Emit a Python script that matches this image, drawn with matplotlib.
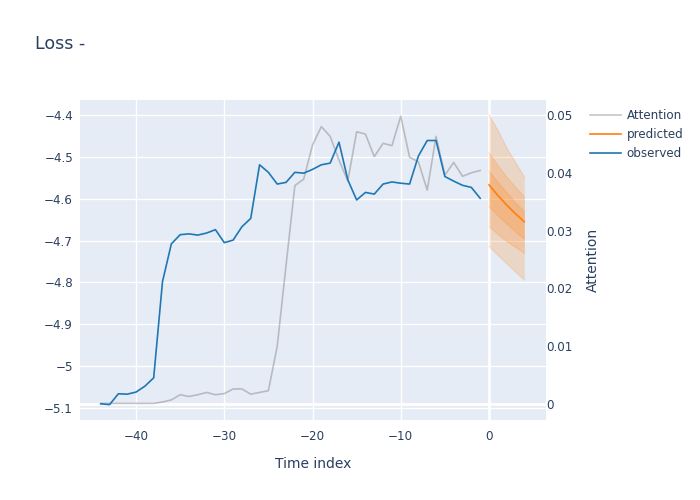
import numpy as np
import matplotlib
matplotlib.use('Agg')
import matplotlib.pyplot as plt
from matplotlib.ticker import FuncFormatter

# observed loss, time index -44 .. -1
obs_t = list(range(-44, 0))
obs_loss = [-5.090, -5.092, -5.066, -5.067, -5.062, -5.048, -5.028, -4.798,
            -4.708, -4.686, -4.684, -4.687, -4.682, -4.674, -4.705, -4.699,
            -4.667, -4.647, -4.519, -4.537, -4.565, -4.561, -4.537, -4.539,
            -4.530, -4.519, -4.515, -4.465, -4.555, -4.603, -4.585, -4.589,
            -4.565, -4.560, -4.563, -4.565, -4.498, -4.461, -4.461, -4.547,
            -4.558, -4.568, -4.573, -4.599]

# attention weights (right axis)
attention = [0.0001, 0.0001, 0.0001, 0.0001, 0.0001, 0.0001, 0.0001, 0.00035,
             0.0007, 0.0016, 0.0013, 0.0016, 0.0020, 0.0016, 0.0018, 0.0026,
             0.0026, 0.0017, 0.0020, 0.0023, 0.0100, 0.0240, 0.0378, 0.0389,
             0.0448, 0.0480, 0.0463, 0.0422, 0.0386, 0.0471, 0.0467, 0.0428,
             0.0451, 0.0447, 0.0498, 0.0427, 0.0419, 0.0370, 0.0463, 0.0396,
             0.0418, 0.0394, 0.0400, 0.0404]

# forecast
pred_t = [0, 1, 2, 3, 4]
pred_med = [-4.567, -4.592, -4.615, -4.636, -4.655]
outer_hi = [-4.400, -4.436, -4.478, -4.513, -4.547]
outer_lo = [-4.714, -4.735, -4.755, -4.775, -4.794]
mid_hi = [-4.490, -4.520, -4.548, -4.572, -4.595]
mid_lo = [-4.667, -4.685, -4.702, -4.716, -4.730]
inner_hi = [-4.534, -4.560, -4.585, -4.609, -4.631]
inner_lo = [-4.619, -4.640, -4.660, -4.679, -4.696]

yticks_left = [-4.4, -4.5, -4.6, -4.7, -4.8, -4.9, -5.0, -5.1]
yticks_right = [0, 0.01, 0.02, 0.03, 0.04, 0.05]
xticks = [-40, -30, -20, -10, 0]

txt = '#2a3f5f'
bg = '#e5ecf6'
orange = '#ff7f0e'
blue = '#1f77b4'

fig = plt.figure(figsize=(7, 5), dpi=100)
ax = fig.add_axes([80/700, 80/500, 466/700, 320/500])
ax.set_facecolor(bg)
ax2 = ax.twinx()

ax.set_xlim(-46.35, 6.46)
ax.set_ylim(-5.1287, -4.3642)
ax2.set_ylim(-0.00277, 0.0526)

for a in (ax, ax2):
    for s in a.spines.values():
        s.set_visible(False)
    a.tick_params(length=0, colors=txt, labelsize=8.6)

ax.set_axisbelow(True)
ax.grid(True, color='white', linewidth=1)
ax.set_xticks(xticks)
ax.set_yticks(yticks_left)
ax.axvline(0, color='white', linewidth=2, zorder=0.5)
ax.yaxis.set_major_formatter(FuncFormatter(lambda v, p: '{:g}'.format(v).replace('-', '\u2212')))
ax.xaxis.set_major_formatter(FuncFormatter(lambda v, p: '{:g}'.format(v).replace('-', '\u2212')))
ax.tick_params(axis='x', pad=7)
ax.tick_params(axis='y', pad=5)

ax2.set_yticks(yticks_right)
ax2.yaxis.set_major_formatter(FuncFormatter(lambda v, p: '{:g}'.format(v)))
ax2.tick_params(axis='y', pad=0)
ax2.axhline(0, color='white', linewidth=2, zorder=0)

# attention on the right axis
ax2.plot(obs_t, attention, color='gray', alpha=0.45, linewidth=1.2, label='Attention')

# forecast bands
for lo, hi in [(outer_lo, outer_hi), (mid_lo, mid_hi), (inner_lo, inner_hi)]:
    ax.fill_between(pred_t, lo, hi, color=orange, alpha=0.2, linewidth=0)
    ax.plot(pred_t, hi, color=orange, alpha=0.15, linewidth=1)
    ax.plot(pred_t, lo, color=orange, alpha=0.15, linewidth=1)

# lines drawn on top of the twin axis
ax3 = ax.twinx()
ax3.set_ylim(ax.get_ylim())
ax3.axis('off')
ax3.plot(pred_t, pred_med, color=orange, linewidth=1.2, label='predicted')
ax3.plot(obs_t, obs_loss, color=blue, linewidth=1.2, label='observed')

h2, l2 = ax2.get_legend_handles_labels()
h3, l3 = ax3.get_legend_handles_labels()
fig.legend(h2 + h3, l2 + l3, loc='upper left', bbox_to_anchor=(585/700, 1 - 104/500),
           frameon=False, fontsize=8.6, labelcolor=txt, handlelength=2.6,
           handletextpad=0.5, labelspacing=0.5, borderaxespad=0)

ax.set_xlabel('Time index', color=txt, fontsize=10, labelpad=10)
ax2.set_ylabel('Attention', color=txt, fontsize=10, labelpad=10)
fig.text(35/700, 1 - 44/500, 'Loss -', color=txt, fontsize=12.5, va='center')

fig.savefig('out.png', dpi=100)
